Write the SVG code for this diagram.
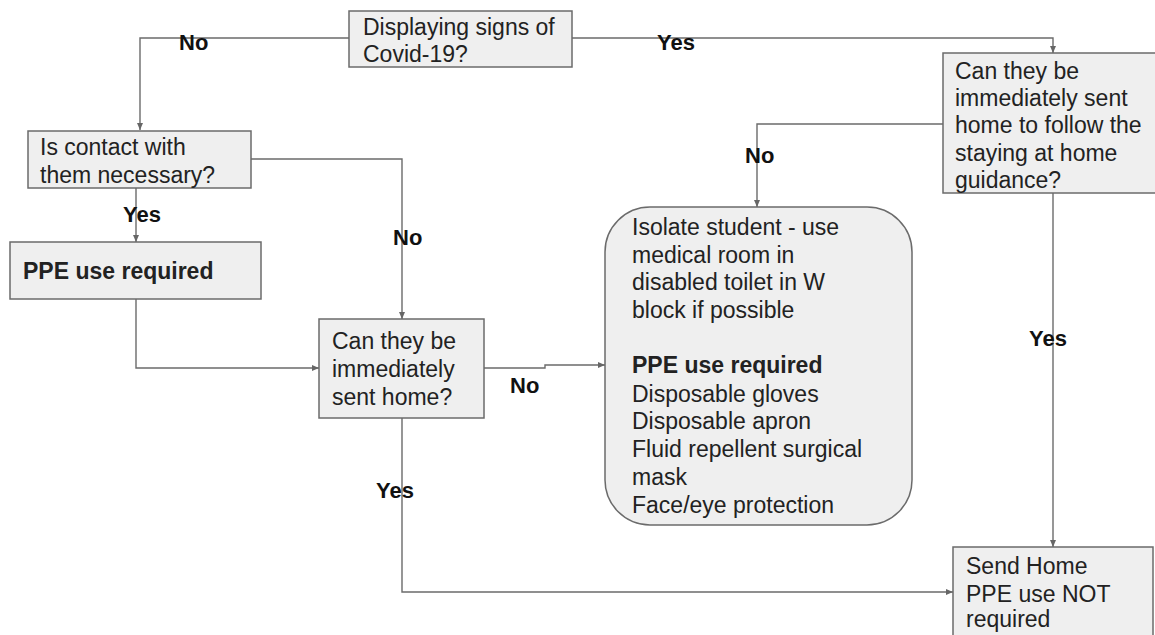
<svg xmlns="http://www.w3.org/2000/svg" width="1155" height="635" viewBox="0 0 1155 635">
<defs>
<marker id="arr" markerWidth="8" markerHeight="8" refX="7" refY="4" orient="auto" markerUnits="userSpaceOnUse">
<path d="M0,1 L7,4 L0,7 z" fill="#666"/>
</marker>
<style>
.box{fill:#efefef;stroke:#6b6b6b;stroke-width:1.5}
.t{font-family:"Liberation Sans",Arial,sans-serif;font-size:23px;fill:#222}
.b{font-weight:bold}
.lbl{font-family:"Liberation Sans",Arial,sans-serif;font-size:22px;font-weight:bold;fill:#111}
.c{fill:none;stroke:#6b6b6b;stroke-width:1.4}
</style>
</defs>
<rect width="1155" height="635" fill="#fff"/>
<g id="connectors">
<polyline class="c" points="349,38 140,38 140,130" marker-end="url(#arr)"/>
<polyline class="c" points="572,38 1053,38 1053,53" marker-end="url(#arr)"/>
<polyline class="c" points="136,188 136,242" marker-end="url(#arr)"/>
<polyline class="c" points="251,159 402,159 402,319" marker-end="url(#arr)"/>
<polyline class="c" points="136,299 136,368 319,368" marker-end="url(#arr)"/>
<polyline class="c" points="484,368 545,368 545,365 605,365" marker-end="url(#arr)"/>
<polyline class="c" points="943,124 757,124 757,207" marker-end="url(#arr)"/>
<polyline class="c" points="1053,193 1053,547" marker-end="url(#arr)"/>
<polyline class="c" points="402,418 402,592 953,592" marker-end="url(#arr)"/>
<text class="lbl" x="179" y="50">No</text>
<text class="lbl" x="657" y="50">Yes</text>
<text class="lbl" x="123" y="222">Yes</text>
<text class="lbl" x="393" y="245">No</text>
<text class="lbl" x="745" y="163">No</text>
<text class="lbl" x="510" y="393">No</text>
<text class="lbl" x="1029" y="346">Yes</text>
<text class="lbl" x="376" y="498">Yes</text>
</g>
<g id="n-covid">
<rect class="box" x="349" y="11" width="223" height="56"/>
<text class="t" x="363" y="35">Displaying signs of</text>
<text class="t" x="363" y="62">Covid-19?</text>
</g>
<g id="n-contact">
<rect class="box" x="28" y="131" width="223" height="57"/>
<text class="t" x="40" y="155">Is contact with</text>
<text class="t" x="40" y="183">them necessary?</text>
</g>
<g id="n-ppe">
<rect class="box" x="10" y="242" width="251" height="57"/>
<text class="t b" x="23" y="279">PPE use required</text>
</g>
<g id="n-senthome1">
<rect class="box" x="319" y="319" width="165" height="99"/>
<text class="t" x="332" y="349">Can they be</text>
<text class="t" x="332" y="377">immediately</text>
<text class="t" x="332" y="405">sent home?</text>
</g>
<g id="n-isolate">
<rect class="box" x="605" y="207" width="307" height="318" rx="45" ry="45"/>
<text class="t" x="632" y="235">Isolate student - use</text>
<text class="t" x="632" y="263">medical room in</text>
<text class="t" x="632" y="290">disabled toilet in W</text>
<text class="t" x="632" y="318">block if possible</text>
<text class="t b" x="632" y="373">PPE use required</text>
<text class="t" x="632" y="402">Disposable gloves</text>
<text class="t" x="632" y="429">Disposable apron</text>
<text class="t" x="632" y="457">Fluid repellent surgical</text>
<text class="t" x="632" y="485">mask</text>
<text class="t" x="632" y="513">Face/eye protection</text>
</g>
<g id="n-senthome2">
<rect class="box" x="943" y="53" width="220" height="140"/>
<text class="t" x="955" y="79">Can they be</text>
<text class="t" x="955" y="106">immediately sent</text>
<text class="t" x="955" y="133">home to follow the</text>
<text class="t" x="955" y="161">staying at home</text>
<text class="t" x="955" y="188">guidance?</text>
</g>
<g id="n-sendhome">
<rect class="box" x="953" y="547" width="200" height="100"/>
<text class="t" x="966" y="574">Send Home</text>
<text class="t" x="966" y="602">PPE use NOT</text>
<text class="t" x="966" y="627">required</text>
</g>
</svg>
